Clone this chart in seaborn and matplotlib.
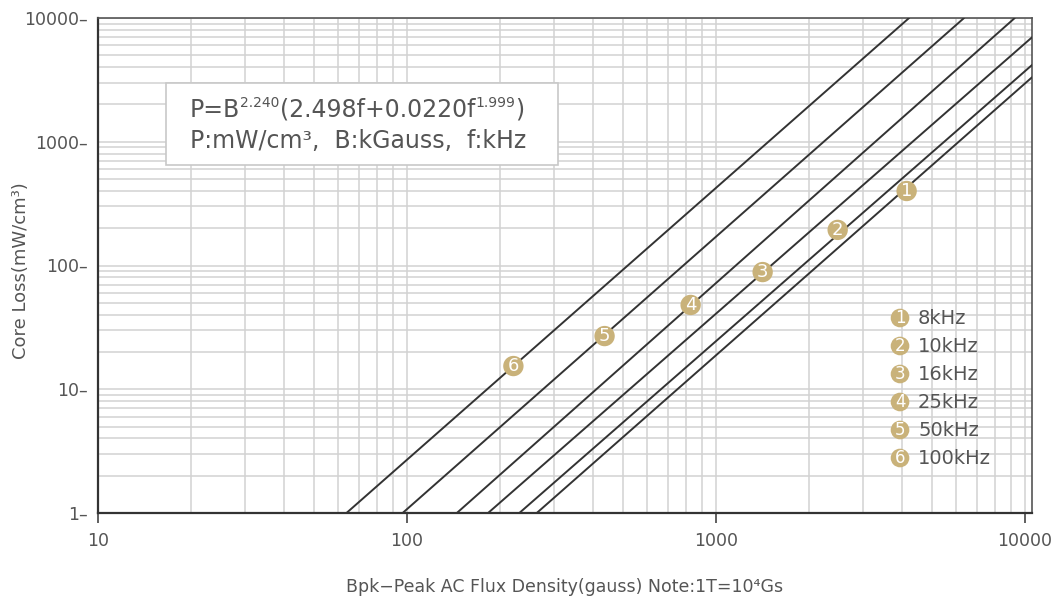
import numpy as np
import pandas as pd
import matplotlib
matplotlib.use("Agg")
import matplotlib.pyplot as plt
import seaborn as sns
from matplotlib.patches import Rectangle

# ---- data ----
freq_labels = ["8kHz", "10kHz", "16kHz", "25kHz", "50kHz", "100kHz"]
curve_ids = ["1", "2", "3", "4", "5", "6"]
b_start = [263, 231, 183, 145, 96.8, 63.7]
p_start = [1, 1, 1, 1, 1, 1]
b_end = [10540, 10540, 10540, 9270, 6352, 4217]
p_end = [3318, 4169, 6982, 10000, 10000, 10000]
marker_b = [4141, 2477, 1416, 828, 436, 221]
marker_p = [400, 194, 88.5, 48, 26.9, 15.4]

x_ticks = [10, 100, 1000, 10000]
x_ticklabels = ["10", "100", "1000", "10000"]
y_ticks = [1, 10, 100, 1000, 10000]
y_ticklabels = ["1", "10", "100", "1000", "10000"]

# formula pieces: (text, is_superscript)
formula_parts = [("P=B", False), ("2.240", True), ("(2.498f+0.0220f", False),
                 ("1.999", True), (")", False)]
formula_line2 = "P:mW/cm\u00b3,  B:kGauss,  f:kHz"
x_label = "Bpk\u2212Peak AC Flux Density(gauss) Note:1T=10\u2074Gs"
y_label = "Core Loss(mW/cm\u00b3)"

# ---- build tables ----
lines_df = pd.DataFrame({
    "B": b_start + b_end,
    "P": p_start + p_end,
    "curve": curve_ids + curve_ids,
})
marks_df = pd.DataFrame({"B": marker_b, "P": marker_p, "curve": curve_ids})

sns.set_theme(style="white")
plt.rcParams["font.family"] = ["DejaVu Sans"]

TXT = "#555555"
GOLD = "#c9b27a"
LINE = "#333333"

fig = plt.figure(figsize=(10.57, 6.01), dpi=100)
ax = fig.add_axes([98 / 1057, 1 - 513 / 601, (1032 - 98) / 1057, (513 - 18) / 601])
ax.set_xscale("log")
ax.set_yscale("log")
ax.set_xlim(10, 10540)
ax.set_ylim(1, 10000)

# grid
ax.set_axisbelow(True)
ax.grid(True, which="both", color="#d2d2d2", linewidth=1.1)

sns.lineplot(data=lines_df, x="B", y="P", units="curve", estimator=None,
             sort=False, color=LINE, linewidth=1.4, ax=ax, zorder=3)
sns.scatterplot(data=marks_df, x="B", y="P", color=GOLD, s=215,
                edgecolor="none", ax=ax, zorder=4, legend=False)
for b, p, cid in zip(marker_b, marker_p, curve_ids):
    ax.text(b, p, cid, color="white", fontsize=13, ha="center", va="center",
            zorder=5)

# legend (manual)
for i, (cid, lab) in enumerate(zip(curve_ids, freq_labels)):
    yy = 1 - (318 - 18) / 495 - i * 28 / 495
    ax.scatter([0.8587], [yy], transform=ax.transAxes, s=180, color=GOLD,
               edgecolor="none", zorder=6, clip_on=False)
    ax.text(0.8587, yy, cid, transform=ax.transAxes, color="white",
            fontsize=12, ha="center", va="center", zorder=7)
    ax.text(0.8587 + 18 / 934, yy, lab, transform=ax.transAxes, color=TXT,
            fontsize=14, ha="left", va="center", zorder=7)

# formula box
ax.add_patch(Rectangle((68 / 934, 1 - (165 - 18) / 495), (558 - 166) / 934,
                       (165 - 83) / 495, transform=ax.transAxes,
                       facecolor="white", edgecolor="#c8c8c8", linewidth=1.2,
                       zorder=2.5))
BASE = 17
SUP = 10
first = ax.text(92 / 934, 1 - (117 - 18) / 495, formula_parts[0][0],
                transform=ax.transAxes, color=TXT, fontsize=BASE,
                ha="left", va="baseline", zorder=6)
prev, base_ref = first, first
for txt, sup in formula_parts[1:]:
    if sup:
        prev = ax.annotate(txt, xy=(1, 1), xycoords=(prev, base_ref),
                           xytext=(0, 1.5), textcoords="offset points",
                           color=TXT, fontsize=SUP, ha="left", va="top",
                           zorder=6)
    else:
        prev = ax.annotate(txt, xy=(1, 0), xycoords=(prev, base_ref),
                           xytext=(0, 0), textcoords="offset points",
                           color=TXT, fontsize=BASE, ha="left", va="bottom",
                           zorder=6)
        base_ref = prev
ax.text(92 / 934, 1 - (148 - 18) / 495, formula_line2, transform=ax.transAxes,
        color=TXT, fontsize=BASE, ha="left", va="baseline", zorder=6)

# ticks
ax.set_xticks(x_ticks)
ax.set_xticklabels(x_ticklabels)
ax.set_yticks(y_ticks)
ax.set_yticklabels([t + "\u2013" for t in y_ticklabels])
ax.tick_params(axis="x", which="major", length=7, width=1.2, color="#444444",
               direction="out", pad=7, labelsize=12.5, labelcolor=TXT, bottom=True)
ax.tick_params(axis="y", which="major", length=0, pad=7, labelsize=12.5,
               labelcolor=TXT, left=True)
ax.tick_params(which="minor", length=0)

for s in ax.spines.values():
    s.set_color("#555555")
    s.set_linewidth(1.2)
ax.spines["left"].set_color("#333333")
ax.spines["bottom"].set_color("#333333")
ax.spines["left"].set_linewidth(1.6)
ax.spines["bottom"].set_linewidth(1.6)

ax.set_xlabel(x_label, color=TXT, fontsize=12.5, labelpad=20)
ax.set_ylabel(y_label, color=TXT, fontsize=13)
ax.yaxis.set_label_coords(-68 / 934, 0.49)

fig.savefig("out.png", dpi=100, facecolor="white")
